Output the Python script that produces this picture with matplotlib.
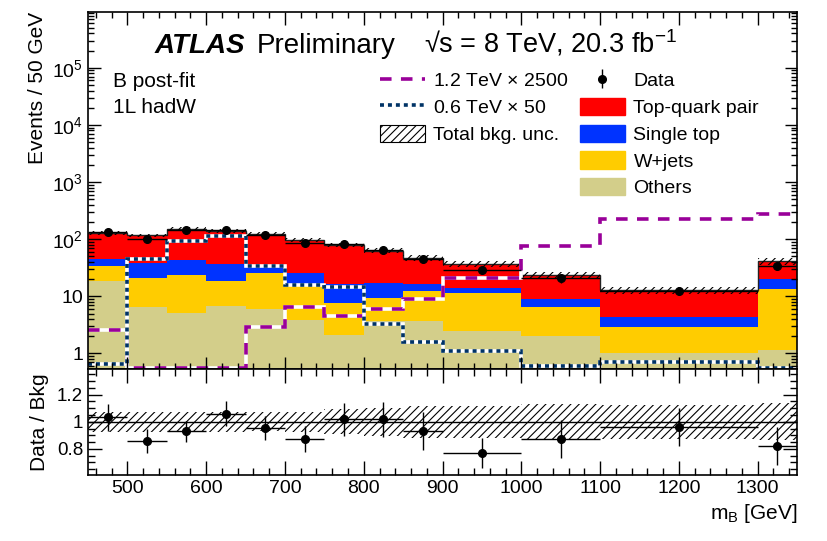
import numpy as np
import matplotlib
matplotlib.use("Agg")
import matplotlib.pyplot as plt
from matplotlib.patches import Patch
from matplotlib.lines import Line2D
from matplotlib.ticker import MultipleLocator, LogLocator, FuncFormatter, NullFormatter

plt.rcParams["font.family"] = ["Liberation Sans", "DejaVu Sans"]
plt.rcParams["mathtext.fontset"] = "custom"
plt.rcParams["mathtext.rm"] = "Liberation Sans"
plt.rcParams["mathtext.it"] = "Liberation Sans:italic"
plt.rcParams["mathtext.bf"] = "Liberation Sans:bold"
plt.rcParams["hatch.linewidth"] = 0.8

# bin edges in m_B [GeV]; contents are events / 50 GeV
edges = np.array([450, 500, 550, 600, 650, 700, 750, 800, 850, 900, 1000, 1100, 1300, 1350])

others = [18.4, 6.5, 5.1, 6.7, 5.9, 3.9, 2.1, 3.7, 3.7, 2.45, 2.0, 1.03, 1.17]
wjets = [15.2, 14.5, 18.3, 12.2, 19.9, 11.2, 5.4, 5.7, 8.9, 9.05, 4.45, 1.9, 12.0]
single_top = [12.1, 17.5, 20.6, 18.1, 6.5, 10.7, 8.6, 7.8, 4.1, 2.6, 2.55, 1.45, 7.0]
ttbar = [82, 78, 109, 101, 91, 72, 63, 46, 31, 23, 14.5, 8.3, 21]

data = [132, 101, 143, 143, 117, 86, 81, 64, 45, 29, 20.5, 12.3, 34.5]
ratio = [1.034, 0.86, 0.93, 1.06, 0.955, 0.875, 1.017, 1.017, 0.93, 0.77, 0.87, 0.96, 0.82]
ratio_err = [0.10, 0.087, 0.078, 0.09, 0.09, 0.097, 0.12, 0.13, 0.14, 0.11, 0.14, 0.14, 0.14]
bkg_unc = [0.075, 0.075, 0.075, 0.075, 0.07, 0.075, 0.092, 0.105, 0.12, 0.118, 0.13, 0.125, 0.137]

sig_1200 = [2.55, 0, 0, 0, 2.88, 6.4, 4.6, 5.9, 8.8, 20.5, 75, 229, 277]
sig_600 = [0.66, 45, 92, 115, 33.6, 15.5, 14.7, 3.3, 1.56, 1.1, 0.6, 0.70, 0.55]

C_TT = "#ff0000"
C_ST = "#0033ff"
C_WJ = "#ffcc00"
C_OTH = "#d3ce8a"
C_S12 = "#990099"
C_S06 = "#003366"

YMIN, YMAX = 0.535, 9.5e5

centers = 0.5 * (edges[:-1] + edges[1:])
halfw = 0.5 * np.diff(edges)

fig = plt.figure(figsize=(8.28, 5.41), dpi=100)
ax = fig.add_axes([0.1063, 0.318, 0.8563, 0.660])
axr = fig.add_axes([0.1063, 0.122, 0.8563, 0.196], sharex=ax)

# stacked backgrounds
base = np.full(len(others), 1e-3)
for vals, col in [(others, C_OTH), (wjets, C_WJ), (single_top, C_ST), (ttbar, C_TT)]:
    top = base + np.array(vals)
    ax.stairs(top, edges, baseline=base, fill=True, color=col, lw=0)
    base = top
total = base
ax.stairs(total, edges, baseline=None, color="#222222", lw=1.0)

# total bkg uncertainty
unc = np.array(bkg_unc)
ax.stairs(total * (1 + unc), edges, baseline=total * (1 - unc), fill=True,
          facecolor="none", edgecolor="black", hatch="////", lw=0)

# signals (white underlay so the gaps show on the fills)
for vals, col, ls in [(sig_1200, C_S12, (0, (3.2, 2.6))), (sig_600, C_S06, (0, (1.1, 1.1)))]:
    v = np.maximum(np.array(vals, dtype=float), YMIN * 1.03)
    ax.stairs(v, edges, baseline=None, color="white", lw=2.6)
    ax.stairs(v, edges, baseline=None, color=col, lw=2.6, ls=ls)

# data
data_err = np.array(ratio_err) * total
ax.errorbar(centers, data, xerr=halfw, yerr=data_err, fmt="o", color="black",
            ms=5.5, lw=1.0, capsize=0, zorder=5)

ax.set_yscale("log")
ax.set_xlim(450, 1350)
ax.set_ylim(YMIN, YMAX)


def log_fmt(v, pos):
    if v <= 0:
        return ""
    e = int(round(np.log10(v)))
    if abs(v - 10 ** e) > 1e-6 * v:
        return ""
    if e == 0:
        return "1"
    if e == 1:
        return "10"
    return r"$10^{%d}$" % e


ax.yaxis.set_major_locator(LogLocator(base=10, numticks=12))
ax.yaxis.set_minor_locator(LogLocator(base=10, subs=np.arange(2, 10), numticks=12))
ax.yaxis.set_major_formatter(FuncFormatter(log_fmt))
ax.yaxis.set_minor_formatter(NullFormatter())
ax.set_ylabel("Events / 50 GeV", fontsize=15, loc="top", labelpad=4)

for a in (ax, axr):
    a.xaxis.set_major_locator(MultipleLocator(100))
    a.xaxis.set_minor_locator(MultipleLocator(20))
    a.tick_params(which="both", direction="in", top=True, right=True, labelsize=14, width=1.0)
    for s in a.spines.values():
        s.set_linewidth(1.2)
ax.tick_params(which="major", length=9)
ax.tick_params(which="minor", length=4.5)
ax.tick_params(axis="x", labelbottom=False)
axr.tick_params(which="major", length=10)
axr.tick_params(which="minor", length=5)
axr.tick_params(axis="y", labelsize=13.5)

# ratio panel
axr.stairs(1 + unc, edges, baseline=1 - unc, fill=True,
           facecolor="none", edgecolor="black", hatch="////", lw=0)
axr.axhline(1.0, color="black", lw=1.0)
axr.errorbar(centers, ratio, xerr=halfw, yerr=ratio_err, fmt="o", color="black",
             ms=5.5, lw=1.0, capsize=0, zorder=5)
axr.set_ylim(0.607, 1.39)
axr.yaxis.set_major_locator(MultipleLocator(0.2))
axr.yaxis.set_minor_locator(MultipleLocator(0.05))
axr.yaxis.set_major_formatter(FuncFormatter(lambda v, p: f"{v:g}"))
axr.set_ylabel("Data / Bkg", fontsize=15, labelpad=6)
axr.set_xlabel(r"m$_{\rm B}$ [GeV]", fontsize=15, loc="right", labelpad=4)
fig.align_ylabels([ax, axr])

# labels
fig.text(155 / 828, 1 - 53 / 541, "ATLAS", fontsize=20, fontweight="bold", style="italic",
         va="baseline")
fig.text(257 / 828, 1 - 53 / 541, "Preliminary", fontsize=20, va="baseline")
fig.text(424 / 828, 1 - 53 / 541, "\u221as = 8 TeV, 20.3 fb$^{-1}$", fontsize=19.5,
         va="baseline")
fig.text(113 / 828, 1 - 87 / 541, "B post-fit", fontsize=15, va="baseline")
fig.text(113 / 828, 1 - 113 / 541, "1L hadW", fontsize=15, va="baseline")

# legends
h_s12 = Line2D([], [], color=C_S12, lw=2.6, ls=(0, (3.2, 2.6)))
h_s06 = Line2D([], [], color=C_S06, lw=2.6, ls=(0, (1.1, 1.1)))
h_unc = Patch(facecolor="white", edgecolor="black", hatch="////", lw=0.8)
h_data = ax.errorbar([np.nan], [np.nan], yerr=[np.nan], fmt="o", color="black", ms=5.5, lw=1.0)

leg_kw = dict(frameon=False, borderpad=0, borderaxespad=0, handlelength=2.3,
              handleheight=1.0, handletextpad=0.45, labelspacing=0.38, fontsize=14,
              bbox_transform=fig.transFigure, loc="upper left")
leg1 = ax.legend([h_s12, h_s06, h_unc],
                 [r"1.2 TeV $\times$ 2500", r"0.6 TeV $\times$ 50", "Total bkg. unc."],
                 bbox_to_anchor=(380 / 828, 1 - 71 / 541), **leg_kw)
ax.add_artist(leg1)
ax.legend([h_data, Patch(color=C_TT), Patch(color=C_ST), Patch(color=C_WJ), Patch(color=C_OTH)],
          ["Data", "Top-quark pair", "Single top", "W+jets", "Others"],
          bbox_to_anchor=(580 / 828, 1 - 71 / 541), **leg_kw)

fig.savefig("out.png", dpi=100)
